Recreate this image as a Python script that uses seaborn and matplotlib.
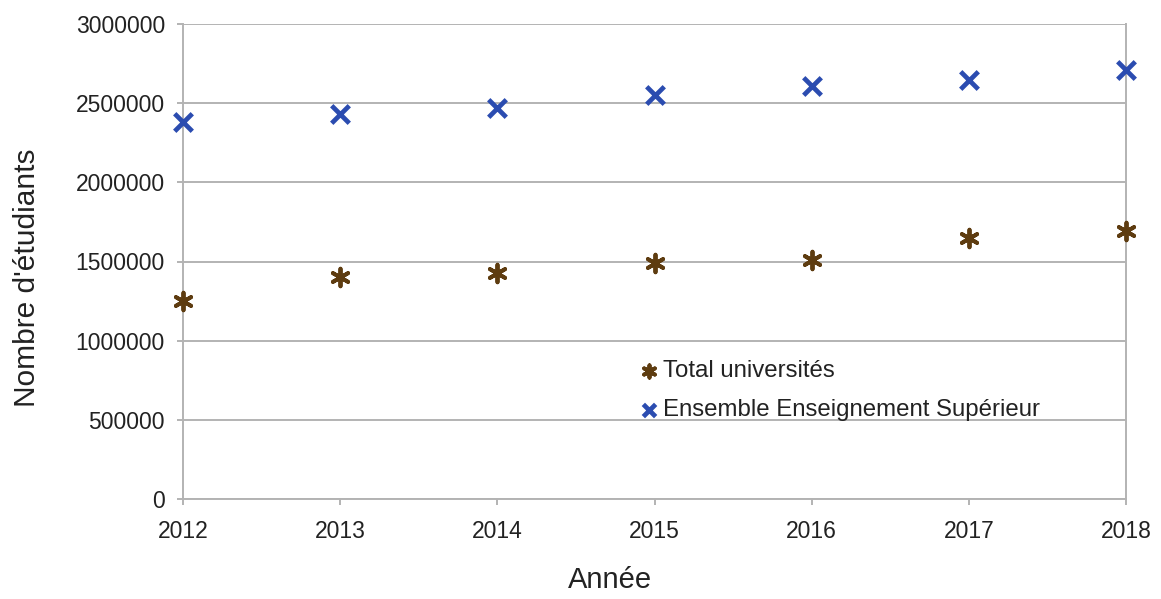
import matplotlib
matplotlib.use("Agg")
import matplotlib.pyplot as plt
import seaborn as sns
import pandas as pd

years = [2012, 2013, 2014, 2015, 2016, 2017, 2018]
total_universites = [1253000, 1400000, 1430000, 1490000, 1510000, 1650000, 1695000]
ensemble_sup = [2380000, 2430000, 2470000, 2550000, 2610000, 2645000, 2710000]
series_names = ["Total universités", "Ensemble Enseignement Supérieur"]
yticks = [0, 500000, 1000000, 1500000, 2000000, 2500000, 3000000]

sns.set_theme(style="white")
plt.rcParams['font.family'] = ['Liberation Sans', 'DejaVu Sans']

W, H = 1161, 599
fig = plt.figure(figsize=(W / 100, H / 100), dpi=100)
ax = fig.add_axes([183 / W, 1 - 499 / H, (1126 - 183) / W, (499 - 24) / H])

df_u = pd.DataFrame({"Année": years, "Nombre": total_universites})
df_e = pd.DataFrame({"Année": years, "Nombre": ensemble_sup})

brown = "#5e3c10"
blue = "#2b4cb0"
sns.scatterplot(data=df_u, x="Année", y="Nombre", ax=ax, marker=(6, 2, 0), s=160,
                color=brown, edgecolor=brown, linewidth=2.8, label=series_names[0],
                zorder=3, clip_on=False)
sns.scatterplot(data=df_e, x="Année", y="Nombre", ax=ax, marker="x", s=160,
                color=blue, linewidth=3.4, label=series_names[1],
                zorder=3, clip_on=False)

ax.set_xlim(2012, 2018)
ax.set_ylim(0, 3000000)
ax.set_xticks(years)
ax.set_xticklabels([str(y) for y in years])
ax.set_yticks(yticks)
ax.set_yticklabels([str(v) for v in yticks])
ax.yaxis.grid(True, color="#b3b3b3", linewidth=1.4)
ax.xaxis.grid(False)
for side in ["left", "bottom", "right"]:
    ax.spines[side].set_color("#b3b3b3")
    ax.spines[side].set_linewidth(1.4)
ax.spines["top"].set_visible(False)

ax.tick_params(axis="both", which="both", length=4.5, width=1.4, color="#b3b3b3",
               labelsize=16.5, labelcolor="#222222", left=True, bottom=True)
ax.tick_params(axis="y", pad=8.5)
ax.tick_params(axis="x", pad=10.5)
ax.set_xlabel("")
ax.set_ylabel("")

fig.text(610 / W, 1 - 588 / H, "Année", fontsize=21, color="#222222",
         ha="center", va="baseline")
fig.text(27 / W, 1 - 278 / H, "Nombre d'étudiants", fontsize=21.5, color="#222222",
         ha="center", va="center", rotation=90)

leg = ax.legend(loc="upper left", bbox_to_anchor=(639 / W, 1 - 360 / H),
                bbox_transform=fig.transFigure, frameon=False,
                fontsize=17.3, handletextpad=0.2, borderaxespad=0, borderpad=0,
                labelspacing=0.72, handlelength=0.8, markerscale=0.7)
for t in leg.get_texts():
    t.set_color("#222222")

fig.savefig("out.png", dpi=100, facecolor="white")
